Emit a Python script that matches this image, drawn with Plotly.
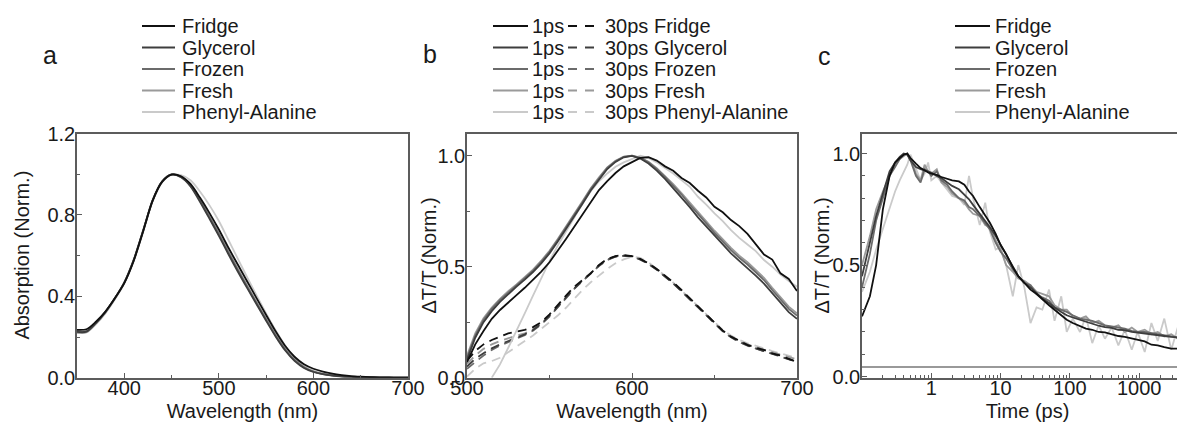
import plotly.graph_objects as go

W, H = 1185, 428
OFF = 8  # page body margin offset of the rendered figure
FONT = "Liberation Sans, Arial, sans-serif"

# ---------------- data ----------------
series_names = ["Fridge", "Glycerol", "Frozen", "Fresh", "Phenyl-Alanine"]
series_colors = ["#111111", "#3e3e3e", "#6b6b6b", "#9a9a9a", "#cacaca"]

# panel a: absorption
wl_abs = list(range(350, 701, 10))
abs_fridge = [0.235, 0.238, 0.275, 0.325, 0.39, 0.465, 0.575, 0.72, 0.87, 0.962, 0.998, 0.99, 0.952, 0.885, 0.81, 0.728, 0.64, 0.556, 0.473, 0.39, 0.308, 0.228, 0.157, 0.103, 0.066, 0.044, 0.03, 0.02, 0.013, 0.008, 0.005, 0.003, 0.002, 0.001, 0.0, 0.0]
abs_glycerol = [0.225, 0.226, 0.268, 0.322, 0.39, 0.468, 0.58, 0.725, 0.873, 0.965, 0.999, 0.985, 0.94, 0.865, 0.782, 0.697, 0.608, 0.522, 0.44, 0.36, 0.28, 0.203, 0.135, 0.083, 0.048, 0.028, 0.017, 0.01, 0.006, 0.004, 0.002, 0.001, 0.0, 0.0, 0.0, 0.0]
abs_frozen = [0.228, 0.229, 0.27, 0.323, 0.39, 0.467, 0.578, 0.723, 0.871, 0.964, 0.999, 0.987, 0.944, 0.872, 0.79, 0.705, 0.616, 0.53, 0.447, 0.366, 0.286, 0.208, 0.14, 0.087, 0.051, 0.03, 0.018, 0.011, 0.007, 0.004, 0.002, 0.001, 0.0, 0.0, 0.0, 0.0]
abs_fresh = [0.222, 0.224, 0.266, 0.32, 0.388, 0.466, 0.577, 0.722, 0.87, 0.963, 0.998, 0.988, 0.946, 0.875, 0.795, 0.71, 0.622, 0.536, 0.452, 0.371, 0.29, 0.212, 0.143, 0.089, 0.053, 0.031, 0.019, 0.012, 0.007, 0.004, 0.002, 0.001, 0.0, 0.0, 0.0, 0.0]
abs_phenyl = [0.22, 0.222, 0.262, 0.316, 0.384, 0.462, 0.572, 0.716, 0.866, 0.96, 0.997, 0.995, 0.97, 0.915, 0.848, 0.77, 0.678, 0.585, 0.493, 0.403, 0.316, 0.233, 0.158, 0.098, 0.058, 0.034, 0.02, 0.012, 0.007, 0.004, 0.002, 0.001, 0.0, 0.0, 0.0, 0.0]

# panel b: transient spectra
wl_ta = list(range(500, 701, 5))
ta1_fridge = [0.07, 0.15, 0.21, 0.265, 0.305, 0.34, 0.372, 0.405, 0.44, 0.478, 0.52, 0.57, 0.625, 0.68, 0.735, 0.795, 0.845, 0.885, 0.922, 0.952, 0.972, 0.99, 0.993, 0.978, 0.952, 0.932, 0.9, 0.877, 0.842, 0.812, 0.77, 0.745, 0.71, 0.683, 0.648, 0.6, 0.555, 0.532, 0.47, 0.445, 0.39]
ta1_glycerol = [0.08, 0.18, 0.25, 0.3, 0.342, 0.378, 0.41, 0.442, 0.476, 0.515, 0.56, 0.613, 0.668, 0.724, 0.784, 0.843, 0.893, 0.94, 0.972, 0.993, 0.999, 0.987, 0.965, 0.933, 0.896, 0.855, 0.813, 0.768, 0.722, 0.681, 0.638, 0.597, 0.56, 0.526, 0.495, 0.46, 0.424, 0.38, 0.335, 0.295, 0.265]
ta1_frozen = [0.09, 0.19, 0.26, 0.31, 0.35, 0.385, 0.416, 0.448, 0.482, 0.522, 0.567, 0.62, 0.675, 0.731, 0.79, 0.85, 0.9, 0.945, 0.975, 0.995, 1.0, 0.99, 0.97, 0.94, 0.905, 0.865, 0.825, 0.78, 0.735, 0.695, 0.652, 0.612, 0.575, 0.54, 0.51, 0.475, 0.44, 0.395, 0.35, 0.31, 0.28]
ta1_fresh = [0.1, 0.2, 0.268, 0.316, 0.355, 0.39, 0.42, 0.452, 0.487, 0.527, 0.572, 0.625, 0.68, 0.736, 0.795, 0.853, 0.903, 0.947, 0.977, 0.996, 1.0, 0.992, 0.973, 0.944, 0.91, 0.872, 0.832, 0.788, 0.744, 0.704, 0.662, 0.622, 0.585, 0.55, 0.52, 0.485, 0.45, 0.405, 0.36, 0.32, 0.29]
ta1_phenyl = [None, None, None, 0.0, 0.06, 0.135, 0.21, 0.29, 0.37, 0.45, 0.525, 0.595, 0.66, 0.725, 0.785, 0.84, 0.885, 0.92, 0.95, 0.97, 0.985, 1.0, 0.99, 0.97, 0.945, 0.92, 0.89, 0.86, 0.815, 0.78, 0.74, 0.705, 0.665, 0.63, 0.6, 0.57, 0.53, 0.5, 0.465, 0.435, 0.41]
ta30_fridge = [0.077, 0.12, 0.15, 0.17, 0.185, 0.2, 0.208, 0.215, 0.228, 0.25, 0.285, 0.33, 0.37, 0.41, 0.44, 0.47, 0.508, 0.535, 0.548, 0.552, 0.548, 0.535, 0.515, 0.49, 0.46, 0.43, 0.395, 0.358, 0.32, 0.283, 0.245, 0.212, 0.185, 0.165, 0.148, 0.135, 0.125, 0.11, 0.1, 0.085, 0.07]
ta30_glycerol = [0.05, 0.085, 0.11, 0.132, 0.15, 0.166, 0.18, 0.195, 0.215, 0.243, 0.278, 0.32, 0.362, 0.402, 0.437, 0.47, 0.505, 0.532, 0.546, 0.55, 0.547, 0.533, 0.513, 0.487, 0.457, 0.425, 0.39, 0.354, 0.317, 0.28, 0.243, 0.21, 0.183, 0.162, 0.145, 0.131, 0.12, 0.108, 0.096, 0.084, 0.072]
ta30_frozen = [0.04, 0.072, 0.1, 0.125, 0.145, 0.16, 0.176, 0.192, 0.212, 0.24, 0.275, 0.317, 0.36, 0.4, 0.435, 0.468, 0.503, 0.53, 0.545, 0.549, 0.546, 0.532, 0.512, 0.486, 0.456, 0.424, 0.389, 0.353, 0.316, 0.279, 0.242, 0.209, 0.182, 0.161, 0.144, 0.13, 0.119, 0.107, 0.095, 0.083, 0.071]
ta30_fresh = [0.062, 0.1, 0.13, 0.15, 0.165, 0.178, 0.19, 0.2, 0.218, 0.245, 0.28, 0.322, 0.363, 0.403, 0.438, 0.47, 0.505, 0.532, 0.546, 0.55, 0.547, 0.534, 0.514, 0.488, 0.458, 0.427, 0.392, 0.356, 0.319, 0.282, 0.245, 0.212, 0.186, 0.166, 0.15, 0.137, 0.126, 0.115, 0.104, 0.093, 0.082]
ta30_phenyl = [0.005, 0.04, 0.065, 0.075, 0.09, 0.115, 0.14, 0.162, 0.19, 0.22, 0.25, 0.28, 0.315, 0.355, 0.395, 0.43, 0.46, 0.49, 0.515, 0.533, 0.545, 0.54, 0.52, 0.49, 0.46, 0.428, 0.393, 0.357, 0.32, 0.283, 0.247, 0.215, 0.19, 0.17, 0.155, 0.142, 0.132, 0.12, 0.11, 0.098, 0.088]

# panel c: kinetics
time_ps = [0.1, 0.13, 0.16, 0.2, 0.25, 0.3, 0.35, 0.4, 0.45, 0.5, 0.6, 0.7, 0.8, 0.9, 1.0, 1.2, 1.4, 1.7, 2.0, 2.5, 3.0, 3.5, 4.0, 5.0, 6.0, 7.0, 8.5, 10, 12, 15, 18, 22, 27, 33, 40, 50, 60, 75, 90, 110, 140, 170, 210, 260, 320, 400, 500, 620, 780, 950, 1200, 1500, 1850, 2300, 2900, 3600, 4500]
kin_fridge = [0.27, 0.36, 0.5, 0.75, 0.9, 0.96, 0.98, 0.995, 1.0, 0.98, 0.955, 0.935, 0.925, 0.915, 0.91, 0.905, 0.895, 0.885, 0.88, 0.875, 0.86, 0.83, 0.81, 0.76, 0.72, 0.69, 0.64, 0.59, 0.55, 0.49, 0.45, 0.42, 0.39, 0.37, 0.345, 0.32, 0.3, 0.275, 0.255, 0.24, 0.225, 0.215, 0.21, 0.2, 0.198, 0.19, 0.182, 0.178, 0.17, 0.165, 0.158, 0.143, 0.14, 0.132, 0.125, 0.125, None]
kin_glycerol = [0.45, 0.6, 0.72, 0.82, 0.92, 0.96, 0.985, 1.0, 0.995, 0.97, 0.94, 0.93, 0.925, 0.92, 0.915, 0.9, 0.89, 0.87, 0.855, 0.84, 0.815, 0.795, 0.77, 0.73, 0.7, 0.67, 0.63, 0.59, 0.55, 0.49, 0.45, 0.42, 0.4, 0.375, 0.35, 0.33, 0.31, 0.29, 0.275, 0.265, 0.255, 0.245, 0.235, 0.228, 0.222, 0.218, 0.21, 0.208, 0.2, 0.197, 0.195, 0.19, 0.187, 0.182, 0.178, 0.176, 0.173]
kin_frozen = [0.4, 0.55, 0.7, 0.8, 0.9, 0.94, 0.975, 0.995, 1.0, 0.97, 0.9, 0.87, 0.93, 0.92, 0.9, 0.92, 0.88, 0.86, 0.83, 0.8, 0.79, 0.76, 0.75, 0.72, 0.69, 0.66, 0.6, 0.56, 0.53, 0.48, 0.45, 0.42, 0.41, 0.37, 0.355, 0.34, 0.31, 0.3, 0.29, 0.275, 0.26, 0.255, 0.25, 0.24, 0.23, 0.225, 0.22, 0.215, 0.205, 0.2, 0.2, 0.195, 0.19, 0.185, 0.18, 0.175, 0.17]
kin_fresh = [0.5, 0.63, 0.75, 0.83, 0.9, 0.95, 0.975, 0.99, 1.0, 0.98, 0.91, 0.88, 0.95, 0.92, 0.91, 0.93, 0.87, 0.85, 0.82, 0.8, 0.78, 0.75, 0.73, 0.72, 0.68, 0.67, 0.61, 0.57, 0.5, 0.47, 0.44, 0.43, 0.41, 0.38, 0.37, 0.36, 0.32, 0.3, 0.3, 0.27, 0.26, 0.27, 0.24, 0.25, 0.23, 0.22, 0.23, 0.2, 0.22, 0.2, 0.21, 0.19, 0.2, 0.18, 0.19, 0.17, 0.18]
kin_phenyl = [0.38, 0.47, 0.57, 0.66, 0.76, 0.83, 0.88, 0.92, 0.95, 0.995, 0.93, 0.88, 0.91, 0.96, 0.88, 0.9, 0.87, 0.84, 0.81, 0.8, 0.77, 0.9, 0.8, 0.68, 0.78, 0.65, 0.57, 0.58, 0.5, 0.36, 0.5, 0.4, 0.24, 0.31, 0.3, 0.39, 0.25, 0.36, 0.2, 0.26, 0.2, 0.27, 0.15, 0.23, 0.17, 0.22, 0.14, 0.21, 0.12, 0.2, 0.11, 0.24, 0.16, 0.26, 0.12, 0.22, 0.12]
BASELINE = 0.043

# ---------------- helpers (reference-pixel -> paper) ----------------
def px(x):
    return (x - OFF) / W


def py(y):
    return 1 - (y - OFF) / H


# ---------------- figure ----------------
fig = go.Figure()
abs_series = [abs_fridge, abs_glycerol, abs_frozen, abs_fresh, abs_phenyl]
ta1_series = [ta1_fridge, ta1_glycerol, ta1_frozen, ta1_fresh, ta1_phenyl]
ta30_series = [ta30_fridge, ta30_glycerol, ta30_frozen, ta30_fresh, ta30_phenyl]
kin_series = [kin_fridge, kin_glycerol, kin_frozen, kin_fresh, kin_phenyl]

LW = 1.8
for i in reversed(range(5)):
    fig.add_trace(go.Scatter(x=wl_abs, y=abs_series[i], mode="lines", name=series_names[i],
                             line=dict(color=series_colors[i], width=LW, shape="spline", smoothing=0.8),
                             xaxis="x", yaxis="y", showlegend=False))
for i in reversed(range(5)):
    fig.add_trace(go.Scatter(x=wl_ta, y=ta30_series[i], mode="lines", name="30ps " + series_names[i],
                             line=dict(color=series_colors[i], width=LW, dash="9px,6px"),
                             xaxis="x2", yaxis="y2", showlegend=False))
for i in reversed(range(5)):
    fig.add_trace(go.Scatter(x=wl_ta, y=ta1_series[i], mode="lines", name="1ps " + series_names[i],
                             line=dict(color=series_colors[i], width=LW),
                             xaxis="x2", yaxis="y2", showlegend=False))
for i in reversed(range(5)):
    fig.add_trace(go.Scatter(x=time_ps, y=kin_series[i], mode="lines", name=series_names[i],
                             line=dict(color=series_colors[i], width=LW),
                             xaxis="x3", yaxis="y3", showlegend=False))

AX = "#5c5c5c"
TXT = "#1a1a1a"
tickfont = dict(family=FONT, size=20, color=TXT)
titlefont = dict(family=FONT, size=20, color=TXT)
common = dict(showline=True, linecolor=AX, linewidth=1.5, mirror=True, ticks="inside",
              ticklen=5, tickwidth=1.2, tickcolor=AX, showgrid=False, zeroline=False,
              tickfont=tickfont, automargin=False)
xcommon = dict(common, ticklabelstandoff=-8)
ycommon = dict(common, ticklabelstandoff=-4)
ydom = [py(377.7), py(133.5)]

fig.update_layout(
    width=W, height=H, margin=dict(l=0, r=0, t=0, b=0, autoexpand=False),
    paper_bgcolor="white", plot_bgcolor="white", showlegend=False,
    xaxis=dict(domain=[px(77), px(408)], range=[350, 700], tickvals=[400, 500, 600, 700],
               minor=dict(tickvals=[450, 550, 650], ticks="inside", ticklen=3, tickcolor=AX),
               title=dict(text="Wavelength (nm)", font=titlefont, standoff=6), **xcommon),
    yaxis=dict(domain=ydom, range=[0, 1.2], tickvals=[0, 0.4, 0.8, 1.2], tickformat=".1f",
               minor=dict(tickvals=[0.2, 0.6, 1.0], ticks="inside", ticklen=3, tickcolor=AX),
               **ycommon),
    xaxis2=dict(domain=[px(467), px(797)], range=[500, 700], tickvals=[500, 600, 700],
                minor=dict(tickvals=[550, 650], ticks="inside", ticklen=3, tickcolor=AX),
                title=dict(text="Wavelength (nm)", font=titlefont, standoff=6), anchor="y2", **xcommon),
    yaxis2=dict(domain=ydom, range=[0, 1.1], tickvals=[0, 0.5, 1.0], tickformat=".1f",
                minor=dict(tickvals=[0.25, 0.75], ticks="inside", ticklen=3, tickcolor=AX),
                anchor="x2", **ycommon),
    xaxis3=dict(domain=[px(862), 1.0], type="log", range=[-1, 3.776], tickvals=[1, 10, 100, 1000],
                ticktext=["1", "10", "100", "1000"],
                minor=dict(dtick="D1", ticks="inside", ticklen=3, tickcolor=AX),
                title=dict(text="Time (ps)", font=titlefont, standoff=6), anchor="y3", **xcommon),
    yaxis3=dict(domain=ydom, range=[-0.005, 1.09], tickvals=[0, 0.5, 1.0], tickformat=".1f",
                minor=dict(dtick=0.1, ticks="inside", ticklen=3, tickcolor=AX),
                anchor="x3", **ycommon),
)

# y-axis titles
ymid = (133.5 + 377.7) / 2
for text, xc in [("Absorption (Norm.)", 22), ("ΔT/T (Norm.)", 429), ("ΔT/T (Norm.)", 822)]:
    fig.add_annotation(text=text, xref="paper", yref="paper", x=px(xc), y=py(ymid), textangle=-90,
                       xanchor="center", yanchor="middle", showarrow=False, font=titlefont)

# baseline in panel c
fig.add_shape(type="line", xref="x3 domain", x0=0, x1=1, yref="y3", y0=BASELINE, y1=BASELINE,
              line=dict(color="#777777", width=1.5))

# ---------------- legends (drawn as samples + text) ----------------
row_y = [26, 47.5, 69, 90.5, 112]
legfont = dict(family=FONT, size=20, color=TXT)

for i, name in enumerate(series_names):
    y = row_y[i]
    col = series_colors[i]
    # panel a
    fig.add_shape(type="line", xref="paper", yref="paper", x0=px(142), x1=px(175), y0=py(y), y1=py(y),
                  line=dict(color=col, width=2))
    fig.add_annotation(text=name, xref="paper", yref="paper", x=px(180), y=py(y), xanchor="left",
                       yanchor="middle", showarrow=False, font=legfont)
    # panel b
    fig.add_shape(type="line", xref="paper", yref="paper", x0=px(493), x1=px(528), y0=py(y), y1=py(y),
                  line=dict(color=col, width=2))
    fig.add_annotation(text="1ps", xref="paper", yref="paper", x=px(530), y=py(y), xanchor="left",
                       yanchor="middle", showarrow=False, font=legfont)
    fig.add_shape(type="line", xref="paper", yref="paper", x0=px(568), x1=px(596), y0=py(y), y1=py(y),
                  line=dict(color=col, width=2, dash="9px,8px"))
    fig.add_annotation(text="30ps " + name, xref="paper", yref="paper", x=px(603), y=py(y),
                       xanchor="left", yanchor="middle", showarrow=False, font=legfont)
    # panel c
    fig.add_shape(type="line", xref="paper", yref="paper", x0=px(955), x1=px(990), y0=py(y), y1=py(y),
                  line=dict(color=col, width=2))
    fig.add_annotation(text=name, xref="paper", yref="paper", x=px(993), y=py(y), xanchor="left",
                       yanchor="middle", showarrow=False, font=legfont)

panel_font = dict(family=FONT, size=25, color=TXT)
for lab, x, y in [("a", 50, 55), ("b", 430, 54), ("c", 824, 56)]:
    fig.add_annotation(text=lab, xref="paper", yref="paper", x=px(x), y=py(y), xanchor="center",
                       yanchor="middle", showarrow=False, font=panel_font)

fig.write_html("out.html")
